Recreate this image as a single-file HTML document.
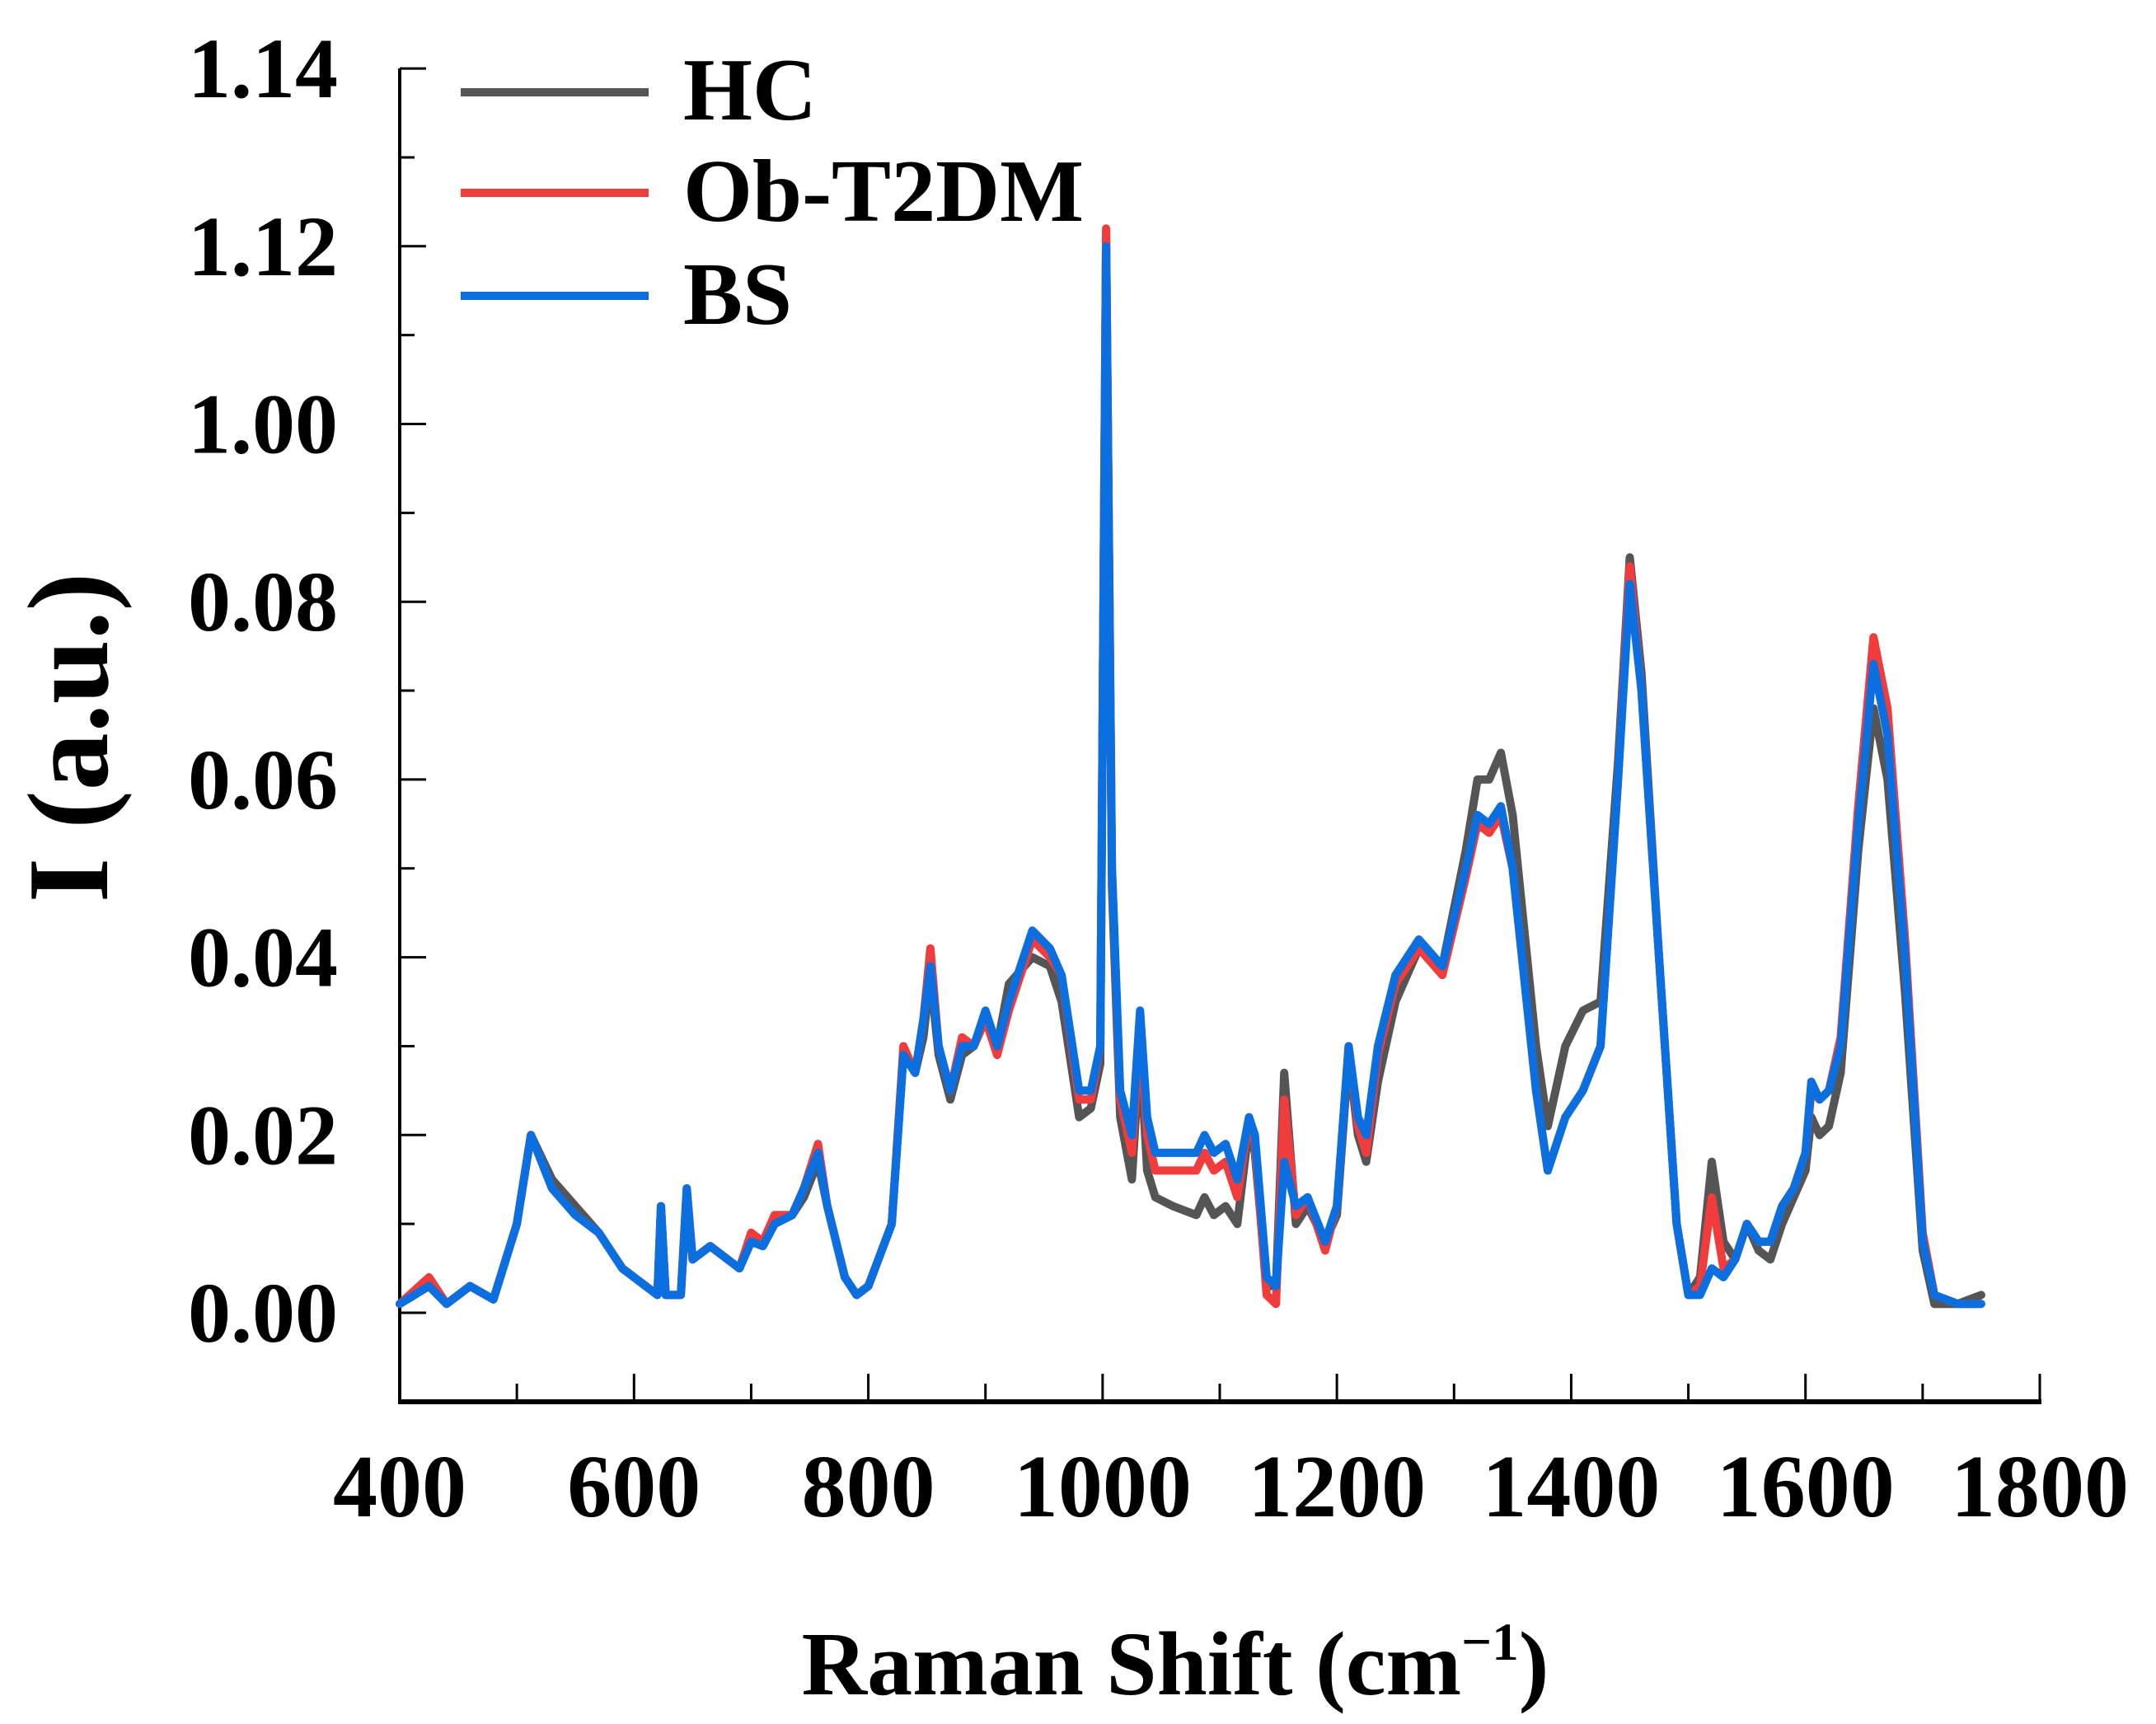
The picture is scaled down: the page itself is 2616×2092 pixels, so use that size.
<!DOCTYPE html>
<html><head><meta charset="utf-8"><style>
html,body{margin:0;padding:0;background:#fff;}
svg{display:block;}
text{font-family:"Liberation Serif",serif;font-weight:bold;fill:#000;}
</style></head><body>
<svg id="chart" width="2616" height="2092" viewBox="0 0 2616 2092" xmlns="http://www.w3.org/2000/svg">
<g id="axes"></g>
<g id="series"></g>
<g id="legend">
  <line x1="559" y1="112" x2="787" y2="112" stroke="#555" stroke-width="10"/>
  <text x="829" y="145" font-size="108">HC</text>
  <line x1="559" y1="234" x2="787" y2="234" stroke="#f03c3c" stroke-width="10"/>
  <text x="829" y="268" font-size="108">Ob-T2DM</text>
  <line x1="559" y1="359" x2="787" y2="359" stroke="#0b6fe0" stroke-width="10"/>
  <text x="829" y="393" font-size="108">BS</text>
</g>
<text x="1426" y="2056" font-size="110" text-anchor="middle">Raman Shift (cm<tspan font-size="65" dy="-42">−1</tspan><tspan dy="42">)</tspan></text>
<text transform="translate(130,895) rotate(-90)" font-size="140" text-anchor="middle">I (a.u.)</text>
</svg>
<script>
const xTicks = [400,600,800,1000,1200,1400,1600,1800];
const yTickLabels = ["0.00","0.02","0.04","0.06","0.08","1.00","1.12","1.14"];
const yTickValues = [0,0.02,0.04,0.06,0.08,0.10,0.12,0.14];
const wavenumbers = [400,425,440,460,480,500,512,530,550,570,
590,610,620,623,627,640,645,650,665,690,
700,710,720,735,745,757,765,780,790,800,
820,830,840,847,853,860,870,880,890,900,
910,920,940,955,965,980,990,998,1003,1008,
1015,1025,1032,1038,1045,1060,1080,1087,1095,1105,
1115,1125,1130,1140,1148,1155,1165,1175,1190,1200,
1210,1218,1225,1235,1250,1270,1290,1310,1320,1330,
1340,1350,1370,1380,1395,1410,1425,1440,1450,1460,
1475,1490,1500,1510,1520,1530,1540,1550,1560,1570,
1580,1590,1600,1605,1612,1620,1630,1645,1658,1670,
1685,1700,1710,1730,1750];
const hcValues = [.001,.003,.001,.003,.0015,.010,.020,.015,.012,.009,
.005,.003,.002,.012,.002,.002,.013,.006,.0075,.005,
.008,.0075,.010,.011,.013,.017,.012,.004,.002,.003,
.010,.029,.027,.031,.038,.029,.024,.029,.030,.033,
.030,.037,.040,.039,.035,.022,.023,.028,.121,.048,
.022,.015,.030,.016,.013,.012,.011,.013,.011,.012,
.010,.021,.018,.003,.003,.027,.010,.012,.008,.011,
.029,.020,.017,.026,.035,.041,.039,.052,.060,.060,
.063,.056,.030,.021,.030,.034,.035,.062,.085,.072,
.040,.010,.002,.004,.017,.008,.006,.010,.007,.006,
.010,.013,.016,.022,.020,.021,.027,.052,.068,.060,
.036,.007,.001,.001,.002];
const obValues = [.001,.004,.001,.003,.0015,.010,.020,.014,.011,.009,
.005,.003,.002,.012,.002,.002,.014,.006,.0075,.005,
.009,.008,.011,.011,.014,.019,.012,.004,.002,.003,
.010,.030,.027,.033,.041,.030,.025,.031,.030,.033,
.029,.034,.042,.040,.038,.024,.024,.030,.122,.050,
.024,.018,.032,.020,.016,.016,.016,.018,.016,.017,
.013,.022,.019,.002,.001,.024,.011,.013,.007,.012,
.030,.021,.018,.029,.037,.041,.038,.049,.055,.054,
.056,.050,.025,.016,.022,.025,.030,.060,.084,.070,
.040,.010,.002,.003,.013,.005,.006,.010,.008,.008,
.012,.014,.018,.025,.024,.025,.031,.057,.076,.068,
.042,.009,.002,.001,.001];
const bsValues = [.001,.003,.001,.003,.0015,.010,.020,.014,.011,.009,
.005,.003,.002,.012,.002,.002,.014,.006,.0075,.005,
.008,.0075,.010,.011,.014,.018,.012,.004,.002,.003,
.010,.029,.027,.033,.039,.030,.025,.030,.030,.034,
.030,.035,.043,.041,.038,.025,.025,.030,.120,.050,
.025,.020,.034,.022,.018,.018,.018,.020,.018,.019,
.015,.022,.020,.004,.003,.017,.012,.013,.008,.012,
.030,.022,.020,.030,.038,.042,.039,.050,.056,.055,
.057,.050,.025,.016,.022,.025,.030,.060,.082,.070,
.040,.010,.002,.002,.005,.004,.006,.010,.008,.008,
.012,.014,.018,.026,.024,.025,.030,.055,.073,.065,
.040,.008,.002,.001,.001];

const NS='http://www.w3.org/2000/svg';
const X0=485, X1=2475, XMIN=400, XMAX=1800;
const Y0=1593, YSTEP=215.7;
function xs(v){return X0+(v-XMIN)/(XMAX-XMIN)*(X1-X0);}
function ys(v){return Y0-v/0.02*YSTEP;}
function mk(tag,attrs,parent){const e=document.createElementNS(NS,tag);for(const k in attrs)e.setAttribute(k,attrs[k]);parent.appendChild(e);return e;}

const axes=document.getElementById('axes');
const AXY=1701, TOP=83;
let yl=mk('line',{x1:X0,y1:TOP,x2:X0,y2:AXY+2,stroke:'#000','stroke-width':4},axes);


let xl=mk('line',{x1:X0-2,y1:AXY,x2:X1+2,y2:AXY,stroke:'#000','stroke-width':6},axes);



xTicks.forEach((t,i)=>{
  const x=xs(t);
  const tk=mk('line',{x1:x,y1:AXY,x2:x,y2:AXY-34,stroke:'#000','stroke-width':3},axes);
  
  
  if(i<xTicks.length-1){
    const mx=xs(t+100);
    const mt=mk('line',{x1:mx,y1:AXY,x2:mx,y2:AXY-22,stroke:'#000','stroke-width':3},axes);
    
    
  }
  const lb=mk('text',{x:x,y:1840,'font-size':108,'text-anchor':'middle'},axes);
  lb.textContent=t;
  
  
});
yTickValues.forEach((v,i)=>{
  const y=ys(v);
  const tk=mk('line',{x1:X0,y1:y,x2:X0+32,y2:y,stroke:'#000','stroke-width':3},axes);
  
  
  if(i<yTickValues.length-1){
    const my=ys(v+0.01);
    const mt=mk('line',{x1:X0,y1:my,x2:X0+18,y2:my,stroke:'#000','stroke-width':3},axes);
    
    
  }
  const lb=mk('text',{x:410,y:y+35,'font-size':104,'text-anchor':'end'},axes);
  lb.textContent=yTickLabels[i];
  
  
});

const series=document.getElementById('series');
function drawLine(vals,color,name){
  const d=wavenumbers.map((w,i)=>(i?'L':'M')+xs(w).toFixed(1)+' '+ys(vals[i]).toFixed(1)).join(' ');
  const p=mk('path',{d:d,fill:'none',stroke:color,'stroke-width':10,'stroke-linejoin':'round','stroke-linecap':'round'},series);
  
  
}
drawLine(hcValues,'#555555','hc-spectrum-line');
drawLine(obValues,'#f03c3c','ob-t2dm-spectrum-line');
drawLine(bsValues,'#0b6fe0','bs-spectrum-line');
</script>
</body></html>
